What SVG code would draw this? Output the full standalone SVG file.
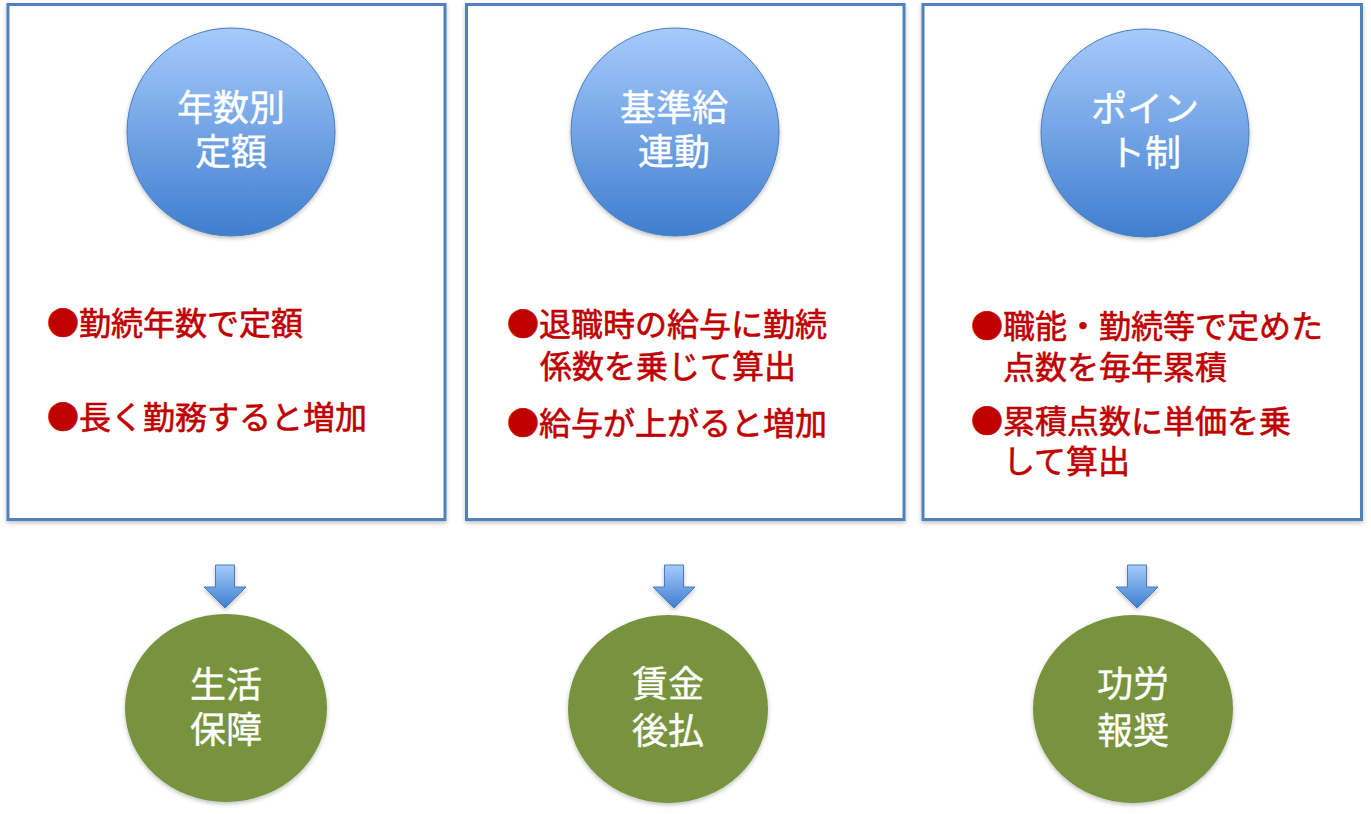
<svg xmlns="http://www.w3.org/2000/svg" width="1371" height="814" viewBox="0 0 1371 814">
  <defs>
    <linearGradient id="blueGrad" x1="0" y1="0" x2="0" y2="1">
      <stop offset="0" stop-color="#a7cafb"/>
      <stop offset="1" stop-color="#3f7ecf"/>
    </linearGradient>
    <linearGradient id="arrowGrad" x1="0" y1="0" x2="0" y2="1">
      <stop offset="0" stop-color="#a7cafb"/>
      <stop offset="1" stop-color="#3f7ecf"/>
    </linearGradient>
    <filter id="shadow" x="-10%" y="-10%" width="120%" height="125%">
      <feDropShadow dx="0" dy="2" stdDeviation="2" flood-color="#000" flood-opacity="0.25"/>
    </filter>
  </defs>
  <style>
    .panel { fill: #ffffff; stroke: #4f81bd; stroke-width: 3; filter: url(#shadow); }
    .blue { fill: url(#blueGrad); stroke: #4a7ebb; stroke-width: 1; filter: url(#shadow); }
    .green { fill: #77933c; filter: url(#shadow); }
    .ctext { font-family: "Noto Sans CJK JP", "Noto Sans", sans-serif; font-size: 36px; fill: #ffffff; stroke: #ffffff; stroke-width: 0.4; text-anchor: middle; }
    .btext { font-family: "Noto Sans CJK JP", "Noto Sans", sans-serif; font-size: 32px; fill: #c00000; stroke: #c00000; stroke-width: 0.6; }
    .arrow { fill: url(#arrowGrad); stroke: #4a7ebb; stroke-width: 1; filter: url(#shadow); }
  </style>
  <rect width="1371" height="814" fill="#ffffff"/>

  <g id="panel1">
    <rect class="panel" x="8" y="4.5" width="437" height="515"/>
    <circle class="blue" cx="231" cy="132" r="104"/>
    <text class="ctext"><tspan x="231" y="121">年数別</tspan><tspan x="231" y="165">定額</tspan></text>
    <text class="btext" x="47" y="335">●勤続年数で定額</text>
    <text class="btext" x="47" y="429">●長く勤務すると増加</text>
  </g>

  <g id="panel2">
    <rect class="panel" x="466.5" y="4.5" width="437.5" height="515"/>
    <circle class="blue" cx="675" cy="132" r="104"/>
    <text class="ctext"><tspan x="674" y="121">基準給</tspan><tspan x="674" y="165">連動</tspan></text>
    <text class="btext"><tspan x="507" y="336">●退職時の給与に勤続</tspan><tspan x="540" y="378">係数を乗じて算出</tspan></text>
    <text class="btext" x="507" y="435">●給与が上がると増加</text>
  </g>

  <g id="panel3">
    <rect class="panel" x="923" y="4.5" width="438.5" height="515"/>
    <circle class="blue" cx="1145" cy="133" r="104"/>
    <text class="ctext"><tspan x="1145" y="122">ポイン</tspan><tspan x="1145" y="166">ト制</tspan></text>
    <text class="btext"><tspan x="971" y="338">●職能・勤続等で定めた</tspan><tspan x="1003" y="379">点数を毎年累積</tspan></text>
    <text class="btext"><tspan x="971" y="433">●累積点数に単価を乗</tspan><tspan x="1003" y="473">して算出</tspan></text>
  </g>

  <g id="connectors">
    <polygon class="arrow" points="215.5,565 234.5,565 234.5,587 246,587 225,608 204,587 215.5,587"/>
    <polygon class="arrow" points="664.5,565 683.5,565 683.5,587 695,587 674,608 653,587 664.5,587"/>
    <polygon class="arrow" points="1127.5,565 1146.5,565 1146.5,587 1158,587 1137,608 1116,587 1127.5,587"/>
  </g>

  <g id="result1">
    <ellipse class="green" cx="226" cy="708" rx="101" ry="94"/>
    <text class="ctext"><tspan x="226" y="698">生活</tspan><tspan x="226" y="743">保障</tspan></text>
  </g>

  <g id="result2">
    <ellipse class="green" cx="668" cy="709" rx="100" ry="94"/>
    <text class="ctext"><tspan x="668" y="697">賃金</tspan><tspan x="668" y="744">後払</tspan></text>
  </g>

  <g id="result3">
    <ellipse class="green" cx="1133" cy="709" rx="100" ry="94"/>
    <text class="ctext"><tspan x="1133" y="697">功労</tspan><tspan x="1133" y="744">報奨</tspan></text>
  </g>
</svg>
